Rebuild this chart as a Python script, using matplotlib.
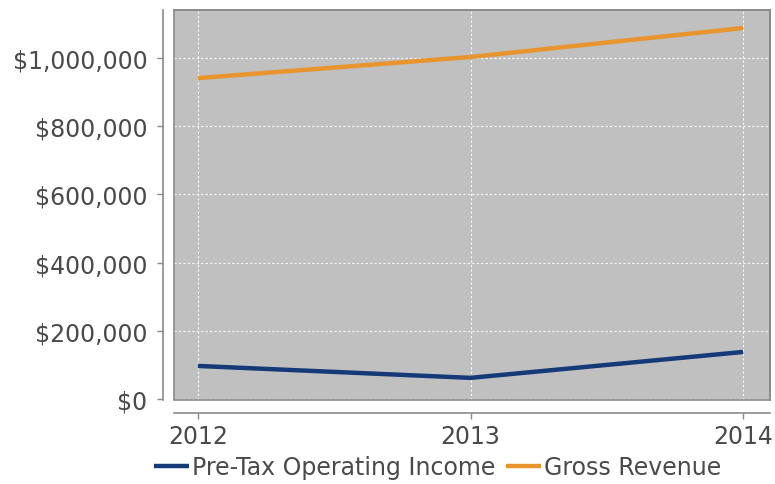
import numpy as np
import matplotlib.pyplot as plt
from matplotlib.patches import Rectangle
from matplotlib.ticker import FuncFormatter

# yearly figures
years = [2012, 2013, 2014]
pretax_income = [97000, 62000, 138000]
gross_revenue = [941000, 1003000, 1088000]
ytick_vals = [0, 200000, 400000, 600000, 800000, 1000000]

navy = '#163a78'
orange = '#e8952f'
text_col = '#4a4a4a'
axis_col = '#8a8a8a'

fig = plt.figure(figsize=(7.75, 4.85), dpi=100)
ax = fig.add_axes([174/775, 1 - 401/485, 596/775, 390/485])
ax.set_facecolor('#c0c0c0')

ax.plot(years, pretax_income, color=navy, lw=3.2, solid_capstyle='butt',
        label='Pre-Tax Operating Income', zorder=3)
ax.plot(years, gross_revenue, color=orange, lw=3.2, solid_capstyle='butt',
        label='Gross Revenue', zorder=3)

ax.set_xlim(2011.912, 2014.099)
ax.set_ylim(-2900, 1140800)
ax.set_xticks(years)
ax.set_yticks(ytick_vals)
ax.yaxis.set_major_formatter(FuncFormatter(lambda v, p: '$' + format(int(v), ',')))

ax.grid(True, color='white', lw=0.8, ls=(0, (2, 2)), alpha=0.9)
ax.set_axisbelow(True)

# plot border, then axis lines pushed outward
for s in ['top', 'right']:
    ax.spines[s].set_color(axis_col)
    ax.spines[s].set_linewidth(1.2)
ax.spines['left'].set_position(('outward', 8))
ax.spines['bottom'].set_position(('outward', 9))
for s in ['left', 'bottom']:
    ax.spines[s].set_color(axis_col)
    ax.spines[s].set_linewidth(1.2)
ax.add_patch(Rectangle((0, 0), 1, 1, transform=ax.transAxes, fill=False,
                       edgecolor=axis_col, lw=1.2, clip_on=False, zorder=4))

ax.tick_params(axis='y', length=4, width=1, color=axis_col, pad=7,
               labelsize=17, labelcolor=text_col)
ax.tick_params(axis='x', length=4, width=1, color=axis_col, pad=4,
               labelsize=17, labelcolor=text_col)

fig.legend(loc='center left', bbox_to_anchor=(154/775, 1 - 468/485),
           ncol=2, frameon=False, fontsize=17, labelcolor=text_col,
           handlelength=1.5, handletextpad=0.1, columnspacing=0.45,
           borderpad=0, borderaxespad=0)

plt.savefig('out.png', dpi=100)
